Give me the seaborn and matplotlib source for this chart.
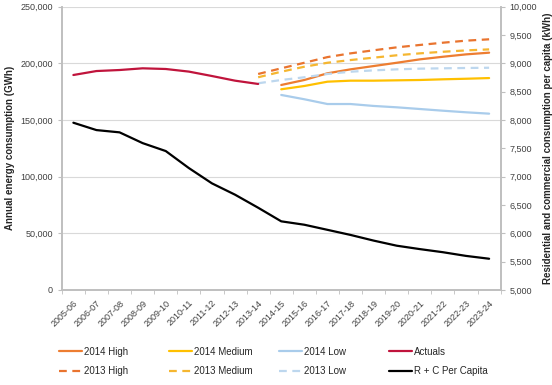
import numpy as np
import pandas as pd
import seaborn as sns
import matplotlib.pyplot as plt
from matplotlib.ticker import FuncFormatter, MultipleLocator, FixedLocator
from matplotlib.lines import Line2D

sns.set_style("white")
plt.rcParams['font.family'] = ['Liberation Sans', 'DejaVu Sans']

years = ['2005-06', '2006-07', '2007-08', '2008-09', '2009-10', '2010-11', '2011-12',
         '2012-13', '2013-14', '2014-15', '2015-16', '2016-17', '2017-18', '2018-19',
         '2019-20', '2020-21', '2021-22', '2022-23', '2023-24']

# annual consumption (GWh), left axis
actuals = [189600, 193100, 194000, 195500, 194900, 192600, 188700, 184600, 181700]
high_2013 = [190500, 195500, 200400, 205400, 208700, 211400, 214000, 216100, 218100, 219900, 221100]
med_2013 = [187600, 192500, 196900, 200400, 202800, 204900, 207000, 208700, 210100, 211300, 212200]
low_2013 = [182300, 185200, 187600, 190500, 192500, 193700, 194600, 195200, 195500, 195800, 196000]
high_2014 = [180800, 185200, 191100, 194600, 197500, 200400, 203400, 205700, 207800, 209300]
med_2014 = [177000, 179900, 183700, 184600, 184600, 184900, 185200, 185800, 186300, 186900]
low_2014 = [172000, 168200, 164000, 164000, 162300, 161100, 159600, 158100, 156700, 155500]

# R + C per capita (kWh), right axis
per_capita = [7950, 7820, 7780, 7590, 7450, 7150, 6880, 6680, 6450, 6210,
              6150, 6060, 5970, 5870, 5780, 5720, 5665, 5600, 5550]

idx = np.arange(len(years))

def frame(vals, start):
    return pd.DataFrame({'x': idx[start:start + len(vals)], 'y': vals})

fig, ax = plt.subplots(figsize=(5.52, 3.85), dpi=100)
fig.subplots_adjust(left=0.112, right=0.907, top=0.983, bottom=0.247)

c_high = '#ED7D31'
c_high13 = '#E9742F'
c_med = '#FFC000'
c_med13 = '#F5B630'
c_low = '#A9CCEB'
c_low13 = '#BDD7EE'
c_act = '#C0143C'
dash = (0, (3.5, 2.5))

series = [
    (high_2014, 9, c_high, '-', '2014 High'),
    (high_2013, 8, c_high13, dash, '2013 High'),
    (med_2014, 9, c_med, '-', '2014 Medium'),
    (med_2013, 8, c_med13, dash, '2013 Medium'),
    (low_2014, 9, c_low, '-', '2014 Low'),
    (low_2013, 8, c_low13, dash, '2013 Low'),
    (actuals, 0, c_act, '-', 'Actuals'),
]
handles = []
for vals, start, col, ls, lab in series:
    sns.lineplot(data=frame(vals, start), x='x', y='y', ax=ax, color=col,
                 linestyle=ls, linewidth=1.6)
    handles.append(Line2D([], [], color=col, linestyle=ls, linewidth=1.6, label=lab))

ax2 = ax.twinx()
sns.lineplot(data=frame(per_capita, 0), x='x', y='y', ax=ax2, color='black', linewidth=1.6)
handles.append(Line2D([], [], color='black', linewidth=1.6, label='R + C Per Capita'))

ax.set_xlim(-0.5, len(years) - 0.5)
ax.set_ylim(0, 250000)
ax2.set_ylim(5000, 10000)

ax.yaxis.set_major_locator(MultipleLocator(50000))
ax.yaxis.set_major_formatter(FuncFormatter(lambda v, p: f'{int(v):,}'))
ax2.yaxis.set_major_locator(MultipleLocator(500))
ax2.yaxis.set_major_formatter(FuncFormatter(lambda v, p: f'{int(v):,}'))

ax.set_xticks(idx)
ax.set_xticklabels(years, rotation=45, ha='right', rotation_mode='anchor')
ax.xaxis.set_minor_locator(FixedLocator(np.arange(-0.5, len(years), 1)))
ax.tick_params(axis='x', which='major', length=0, pad=6, labelsize=6.5, colors='#404040')
ax.tick_params(axis='x', which='minor', length=3, color='#BFBFBF', direction='out', bottom=True)
ax.tick_params(axis='y', length=3, color='#BFBFBF', labelsize=6.5, labelcolor='#404040', left=True)
ax2.tick_params(axis='y', length=3, color='#BFBFBF', labelsize=6.5, labelcolor='#404040', right=True)

ax.grid(axis='y', color='#D9D9D9', linewidth=0.8)
ax.set_axisbelow(True)
for a in (ax, ax2):
    a.spines['top'].set_visible(False)
    for s in ('left', 'right', 'bottom'):
        a.spines[s].set_color('#BFBFBF')
        a.spines[s].set_linewidth(1.2)

ax.set_xlabel('')
ax.set_ylabel('Annual energy consumption (GWh)', fontsize=7, fontweight='bold', labelpad=4)
ax2.set_ylabel('Residential and commercial consumption per capita (kWh)', fontsize=7,
               fontweight='bold', labelpad=4)

# legend: four columns of two entries, evenly spaced like the original
col_x = [56, 166, 276, 386]
for i, x0 in enumerate(col_x):
    leg = fig.legend(handles=handles[2 * i:2 * i + 2], loc='center left',
                     bbox_to_anchor=((x0 - 5) / 552, 1 - 361.5 / 385),
                     frameon=False, fontsize=7, handlelength=2.4, handletextpad=0.2,
                     labelspacing=0.95, borderpad=0.3)
    for t in leg.get_texts():
        t.set_color('#262626')

fig.savefig('out.png', dpi=100)
